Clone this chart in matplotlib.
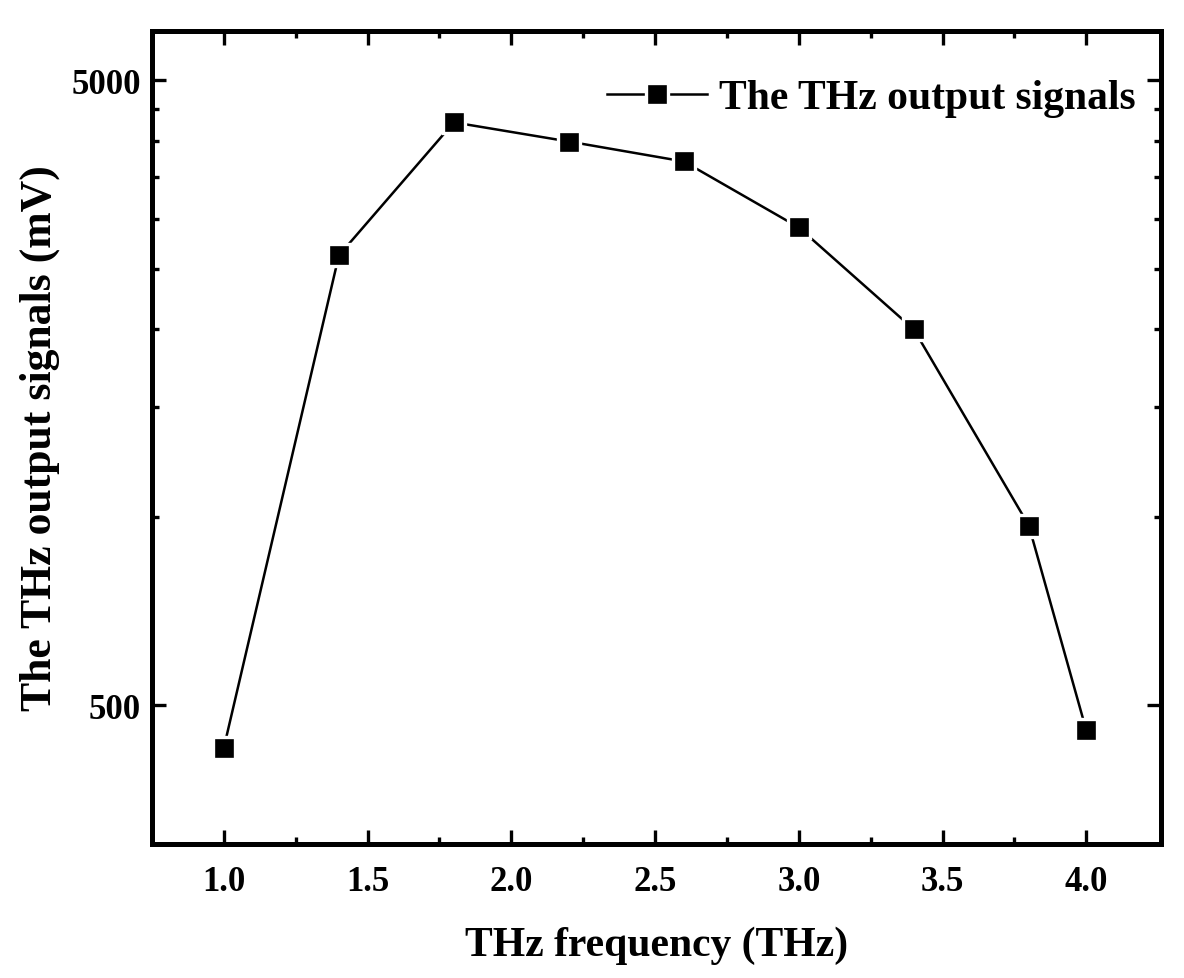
import matplotlib
matplotlib.use("Agg")
import matplotlib.pyplot as plt
from matplotlib.ticker import FixedLocator, FixedFormatter, NullFormatter

freq = [1.0, 1.4, 1.8, 2.2, 2.6, 3.0, 3.4, 3.8, 4.0]
signal = [428, 2624, 4285, 3993, 3710, 2909, 1998, 970, 456]

x_major = [1.0, 1.5, 2.0, 2.5, 3.0, 3.5, 4.0]
x_labels = ["1.0", "1.5", "2.0", "2.5", "3.0", "3.5", "4.0"]
x_minor = [1.25, 1.75, 2.25, 2.75, 3.25, 3.75]
y_major = [500, 5000]
y_labels = ["500", "5000"]
y_minor = [1000, 1500, 2000, 2500, 3000, 3500, 4000, 4500]

plt.rcParams['font.family'] = ['Liberation Serif', 'DejaVu Serif']
plt.rcParams['font.weight'] = 'bold'

fig = plt.figure(figsize=(11.84, 9.79), dpi=100)
ax = fig.add_axes([0.1284, 0.1369, 0.9806 - 0.1284, 0.9673 - 0.1369])

ax.plot(freq, signal, color='black', lw=1.8, marker='s', markersize=15.5,
        markerfacecolor='black', markeredgecolor='white', markeredgewidth=2.4,
        label='The THz output signals')

ax.set_yscale('log')
ax.set_xlim(0.75, 4.26)
ax.set_ylim(300, 6000)

ax.xaxis.set_major_locator(FixedLocator(x_major))
ax.xaxis.set_major_formatter(FixedFormatter(x_labels))
ax.xaxis.set_minor_locator(FixedLocator(x_minor))
ax.yaxis.set_major_locator(FixedLocator(y_major))
ax.yaxis.set_major_formatter(FixedFormatter(y_labels))
ax.yaxis.set_minor_locator(FixedLocator(y_minor))
ax.yaxis.set_minor_formatter(NullFormatter())

for s in ax.spines.values():
    s.set_linewidth(3.6)
ax.tick_params(which='major', direction='in', length=10, width=2.4,
               top=True, right=True, labelsize=25)
ax.tick_params(axis='x', which='major', pad=15)
ax.tick_params(axis='y', which='major', pad=8)
ax.tick_params(which='minor', direction='in', length=5, width=2.4,
               top=True, right=True)
for lab in ax.get_xticklabels() + ax.get_yticklabels():
    lab.set_fontweight('bold')

ax.set_xlabel('THz frequency (THz)', fontsize=30, fontweight='bold', labelpad=20)
ax.set_ylabel('The THz output signals (mV)', fontsize=31.5, fontweight='bold', labelpad=8)

leg = ax.legend(loc='upper right', frameon=False, fontsize=30,
                handlelength=2.4, borderaxespad=0.0, borderpad=0.0,
                handletextpad=0.3, bbox_to_anchor=(0.975, 0.941))
for t in leg.get_texts():
    t.set_fontweight('bold')

fig.savefig('out.png', dpi=100)
